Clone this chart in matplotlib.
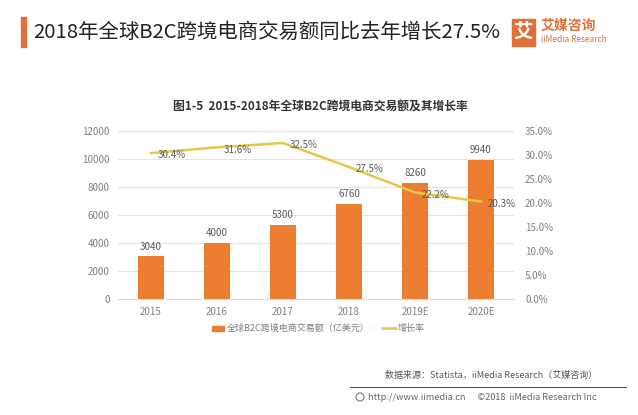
import matplotlib.pyplot as plt
from matplotlib.patches import Rectangle, Ellipse

plt.rcParams['font.family'] = ['Noto Sans CJK SC', 'DejaVu Sans']

# data
years = ["2015", "2016", "2017", "2018", "2019E", "2020E"]
amount = [3040, 4000, 5300, 6760, 8260, 9940]
growth = [30.4, 31.6, 32.5, 27.5, 22.2, 20.3]

bar_color = "#ED7D31"
line_color = "#E3C84A"
grey = "#808080"

fig = plt.figure(figsize=(6.38, 4.15), dpi=100)
W, H = 638, 415

# plot area in pixels: left 118, right 514, top 131, bottom 299
ax = fig.add_axes([118 / W, 1 - 299 / H, (514 - 118) / W, (299 - 131) / H])
x = list(range(len(years)))
bars = ax.bar(x, amount, width=0.38, color=bar_color, zorder=2)
ax.set_xlim(-0.5, 5.5)
ax.set_ylim(0, 12000)
ax.set_yticks(range(0, 12001, 2000))
ax.set_xticks(x)
ax.set_xticklabels(years)
ax.grid(axis='y', color="#e4e4e4", linewidth=0.8, zorder=0)
for s in ax.spines.values():
    s.set_visible(False)
ax.spines['bottom'].set_visible(True)
ax.spines['bottom'].set_color("#d9d9d9")
ax.tick_params(length=0, labelsize=7, colors=grey, pad=6)
for xi, v in zip(x, amount):
    ax.text(xi, v + 350, str(v), ha='center', va='bottom', fontsize=7, color="#595959")

ax2 = ax.twinx()
ax2.plot(x, growth, color=line_color, linewidth=1.8, zorder=3)
ax2.set_ylim(0, 35)
ax2.set_yticks([0, 5, 10, 15, 20, 25, 30, 35])
ax2.set_yticklabels([f"{t:.1f}%" for t in [0, 5, 10, 15, 20, 25, 30, 35]])
for s in ax2.spines.values():
    s.set_visible(False)
ax2.tick_params(length=0, labelsize=7, colors=grey, pad=8)
for xi, g in zip(x, growth):
    ax2.text(xi + 0.1, g - 0.5, f"{g}%", ha='left', va='center', fontsize=7, color="#595959")

# title bar
fig.patches.append(Rectangle((21 / W, 1 - 47 / H), 5 / W, 30 / H, transform=fig.transFigure,
                             color="#E0703A", zorder=5))
fig.text(33 / W, 1 - 32 / H, "2018年全球B2C跨境电商交易额同比去年增长27.5%", fontsize=14.7,
         ha='left', va='center', color="#222222")

# logo
fig.patches.append(Rectangle((512 / W, 1 - 46 / H), 23 / W, 27 / H, transform=fig.transFigure,
                             color="#E0703A", zorder=5))
fig.text(523.5 / W, 1 - 32.5 / H, "艾", fontsize=14, fontweight='bold', color='white',
         ha='center', va='center', zorder=6)
fig.text(541 / W, 1 - 26 / H, "艾媒咨询", fontsize=10, color="#E0703A", ha='left', va='center',
         fontweight='bold')
fig.text(541 / W, 1 - 40 / H, "iiMedia Research", fontsize=6, color="#E0703A", ha='left', va='center')

# subtitle
fig.text(320 / W, 1 - 106 / H, "图1-5  2015-2018年全球B2C跨境电商交易额及其增长率", fontsize=8.5,
         fontweight='bold', ha='center', va='center', color="#333333")

# legend
fig.patches.append(Rectangle((212 / W, 1 - 331 / H), 12 / W, 5 / H, transform=fig.transFigure,
                             color=bar_color))
fig.text(227 / W, 1 - 328 / H, "全球B2C跨境电商交易额（亿美元）", fontsize=6.5, color=grey,
         ha='left', va='center')
fig.lines.append(plt.Line2D([382 / W, 396 / W], [1 - 328 / H, 1 - 328 / H], transform=fig.transFigure,
                            color=line_color, linewidth=1.8))
fig.text(398 / W, 1 - 328 / H, "增长率", fontsize=6.5, color=grey, ha='left', va='center')

# source
fig.text(385 / W, 1 - 375 / H, "数据来源：Statista，iiMedia Research（艾媒咨询）", fontsize=6.5,
         color="#555555", ha='left', va='center')
fig.lines.append(plt.Line2D([350 / W, 626 / W], [1 - 387 / H, 1 - 387 / H], transform=fig.transFigure,
                            color="#555555", linewidth=0.8))
fig.patches.append(Ellipse((360 / W, 1 - 397 / H), 8 / W, 8 / H, transform=fig.transFigure,
                           fill=False, edgecolor="#777777", linewidth=0.8))
fig.text(368 / W, 1 - 397 / H, "http://www.iimedia.cn      ©2018  iiMedia Research Inc", fontsize=6.6,
         color="#666666", ha='left', va='center')

fig.savefig("out.png", dpi=100, facecolor='white')
